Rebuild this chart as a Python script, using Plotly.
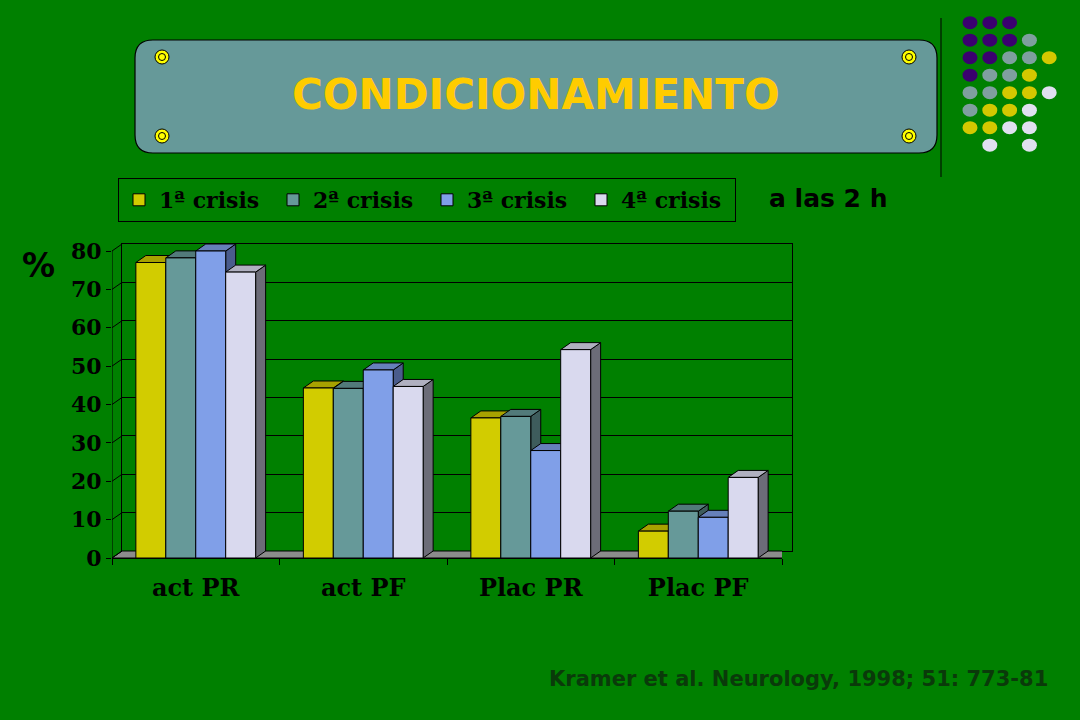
import plotly.graph_objects as go

# ---------------- data ----------------
categories = ["act PR", "act PF", "Plac PR", "Plac PF"]
series_names = ["1ª crisis", "2ª crisis", "3ª crisis", "4ª crisis"]
crisis1 = [77.0, 44.3, 36.5, 7.0]
crisis2 = [78.2, 44.2, 36.9, 12.2]
crisis3 = [80.0, 49.0, 28.0, 10.6]
crisis4 = [74.5, 44.7, 54.3, 21.0]
y_ticks = [0, 10, 20, 30, 40, 50, 60, 70, 80]

series_values = [crisis1, crisis2, crisis3, crisis4]
front_colors = ["#D2CC00", "#669999", "#809FE8", "#D9D9EE"]
top_colors = ["#A8A200", "#527A7A", "#6680BA", "#B0B0C0"]
side_colors = ["#8A8600", "#3E5C5C", "#4A5C8C", "#6C6C78"]

# ---------------- geometry (pixels) ----------------
W, H = 1080, 720
FX0, FX1 = 112, 782        # front axis x extent
FY0 = 558                  # front y of value 0
PPU = (558 - 251) / 80.0   # px per y unit
DEPTH_X, DEPTH_Y = 10, 7   # 3D depth offset in px
YMAX_FRONT = 82
BARGAP = 0.285

PPX = (FX1 - FX0) / 4.0
DX = DEPTH_X / PPX
DY = DEPTH_Y / PPU


def X(px):
    return px / W


def Y(py):
    return 1 - py / H


fig = go.Figure()

# invisible trace so the back-wall subplot is rendered
fig.add_trace(go.Scatter(x=[0], y=[0], xaxis="x", yaxis="y", mode="markers",
                         marker=dict(opacity=0), showlegend=False, hoverinfo="skip"))

# front bars
for name, vals, col in zip(series_names, series_values, front_colors):
    fig.add_trace(go.Bar(
        x=categories, y=vals, name=name, xaxis="x2", yaxis="y2",
        marker=dict(color=col, line=dict(color="black", width=1)),
        hoverinfo="x+y+name",
    ))

shapes = []

# floor
shapes.append(dict(
    type="path", xref="x2", yref="y2", layer="below",
    path=f"M -0.5,0 L 3.5,0 L {3.5+DX},{DY} L {-0.5+DX},{DY} Z",
    fillcolor="#8C8C8C", line=dict(color="black", width=1)))

# 3D faces computed from the data
w = (1 - BARGAP) / 4
for i in range(len(categories)):
    for j, vals in enumerate(series_values):
        v = vals[i]
        xl = i - (1 - BARGAP) / 2 + j * w
        xr = xl + w
        shapes.append(dict(
            type="path", xref="x2", yref="y2", layer="below",
            path=f"M {xr},0 L {xr},{v} L {xr+DX},{v+DY} L {xr+DX},{DY} Z",
            fillcolor=side_colors[j], line=dict(color="black", width=1)))
        shapes.append(dict(
            type="path", xref="x2", yref="y2", layer="below",
            path=f"M {xl},{v} L {xr},{v} L {xr+DX},{v+DY} L {xl+DX},{v+DY} Z",
            fillcolor=top_colors[j], line=dict(color="black", width=1)))

# front y axis line and connectors to back wall
shapes.append(dict(type="line", xref="x2", yref="y2", x0=-0.5, x1=-0.5,
                   y0=0, y1=y_ticks[-1], line=dict(color="black", width=1)))
for t in y_ticks:
    shapes.append(dict(type="line", xref="x2", yref="y2",
                       x0=-0.5, y0=t, x1=-0.5 + DX, y1=t + DY,
                       line=dict(color="black", width=1)))

# title panel (rounded)
bx0, by0, bx1, by1, r = 135, 40, 937, 153, 18
p = [(bx0 + r, by0), (bx1 - r, by0), "Q", (bx1, by0), (bx1, by0 + r),
     (bx1, by1 - r), "Q", (bx1, by1), (bx1 - r, by1), (bx0 + r, by1),
     "Q", (bx0, by1), (bx0, by1 - r), (bx0, by0 + r), "Q", (bx0, by0),
     (bx0 + r, by0)]
path = f"M {X(p[0][0])},{Y(p[0][1])}"
k = 1
while k < len(p):
    if p[k] == "Q":
        path += f" Q {X(p[k+1][0])},{Y(p[k+1][1])} {X(p[k+2][0])},{Y(p[k+2][1])}"
        k += 3
    else:
        path += f" L {X(p[k][0])},{Y(p[k][1])}"
        k += 1
path += " Z"
shapes.append(dict(type="path", xref="paper", yref="paper", path=path,
                   fillcolor="#669999", line=dict(color="black", width=1.2),
                   layer="below"))
for cx, cy in [(162, 57), (909, 57), (162, 136), (909, 136)]:
    shapes.append(dict(type="circle", xref="paper", yref="paper",
                       x0=X(cx - 7), x1=X(cx + 7), y0=Y(cy + 7), y1=Y(cy - 7),
                       fillcolor="#FFFF00", line=dict(color="black", width=1)))
    shapes.append(dict(type="circle", xref="paper", yref="paper",
                       x0=X(cx - 3.5), x1=X(cx + 3.5), y0=Y(cy + 3.5), y1=Y(cy - 3.5),
                       fillcolor="#FFFF00", line=dict(color="black", width=1)))

# decorative line and dots (top right)
shapes.append(dict(type="line", xref="paper", yref="paper",
                   x0=X(941), x1=X(941), y0=Y(18), y1=Y(177),
                   line=dict(color="black", width=1)))
dot_rows = ["PPP..", "PPPG.", "PPGGY", "PGGY.", "GGYYW", "GYYW.", "YYWW.", ".W.W."]
dot_cols = {"P": "#3A006F", "G": "#7F9F9F", "Y": "#D4C800", "W": "#E0E0F0"}
for ri, row in enumerate(dot_rows):
    for ci, ch in enumerate(row):
        if ch == ".":
            continue
        cx = 970 + ci * 19.8
        cy = 22.7 + ri * 17.5
        shapes.append(dict(type="circle", xref="paper", yref="paper",
                           x0=X(cx - 7.5), x1=X(cx + 7.5), y0=Y(cy + 6.5), y1=Y(cy - 6.5),
                           fillcolor=dot_cols[ch], line=dict(width=0)))

annotations = [
    dict(text="CONDICIONAMIENTO", x=X(536), y=Y(95), xref="paper", yref="paper",
         showarrow=False, xanchor="center", yanchor="middle",
         font=dict(family="DejaVu Sans", size=42, color="#FFCC00", weight="bold")),
    dict(text="a las 2 h", x=X(767), y=Y(198), xref="paper", yref="paper",
         showarrow=False, xanchor="left", yanchor="middle",
         font=dict(family="DejaVu Sans", size=25, color="black", weight="bold")),
    dict(text="%", x=X(39), y=Y(265), xref="paper", yref="paper",
         showarrow=False, xanchor="center", yanchor="middle",
         font=dict(family="DejaVu Sans", size=33, color="black", weight="bold")),
    dict(text="Kramer et al. Neurology, 1998; 51: 773-81", x=X(1050), y=Y(679),
         xref="paper", yref="paper", showarrow=False, xanchor="right", yanchor="middle",
         font=dict(family="DejaVu Sans", size=21, color="#0A3A0A", weight="bold")),
]

serif_bold = dict(family="DejaVu Serif", color="black", weight="bold")

fig.update_layout(
    width=W, height=H,
    autosize=False,
    margin=dict(l=0, r=0, t=0, b=0, pad=0, autoexpand=False),
    paper_bgcolor="#008000",
    plot_bgcolor="rgba(0,0,0,0)",
    barmode="group", bargap=BARGAP, bargroupgap=0,
    showlegend=True,
    legend=dict(orientation="h", x=X(118), y=Y(178), xanchor="left", yanchor="top",
                bgcolor="rgba(0,0,0,0)", bordercolor="black", borderwidth=1,
                font=dict(size=22, **serif_bold), entrywidth=109,
                entrywidthmode="pixels", traceorder="normal"),
    # back wall
    xaxis=dict(domain=[X(FX0 + DEPTH_X), X(FX1 + DEPTH_X)], range=[-0.5, 3.5],
               anchor="y", showgrid=False, zeroline=False, showticklabels=False,
               ticks="", showline=True, mirror=True, linecolor="black", linewidth=1,
               automargin=False),
    yaxis=dict(domain=[Y(FY0 - DEPTH_Y), Y(FY0 - DEPTH_Y - 80 * PPU)], range=[0, 80],
               anchor="x", tickvals=y_ticks, showgrid=True, gridcolor="black",
               gridwidth=1, zeroline=False, showticklabels=False, ticks="",
               showline=True, mirror=True, linecolor="black", linewidth=1,
               automargin=False),
    # front
    xaxis2=dict(domain=[X(FX0), X(FX1)], range=[-0.5, 3.5], anchor="y2",
                type="category", categoryarray=categories, tickson="boundaries",
                ticks="outside", ticklen=6, tickcolor="black", showline=True,
                linecolor="black", linewidth=1, showgrid=False, zeroline=False,
                tickfont=dict(size=24, **serif_bold), ticklabelstandoff=8,
                automargin=False),
    yaxis2=dict(domain=[Y(FY0), Y(FY0 - YMAX_FRONT * PPU)], range=[0, YMAX_FRONT],
                anchor="x2", tickvals=y_ticks, ticks="outside", ticklen=5,
                tickcolor="black", showline=False, showgrid=False, zeroline=False,
                tickfont=dict(size=22, **serif_bold), automargin=False),
    shapes=shapes,
    annotations=annotations,
)

fig.write_html(
    "out.html",
    config={"displayModeBar": False},
    post_script="document.body.style.margin='0';document.body.style.background='#008000';",
)
